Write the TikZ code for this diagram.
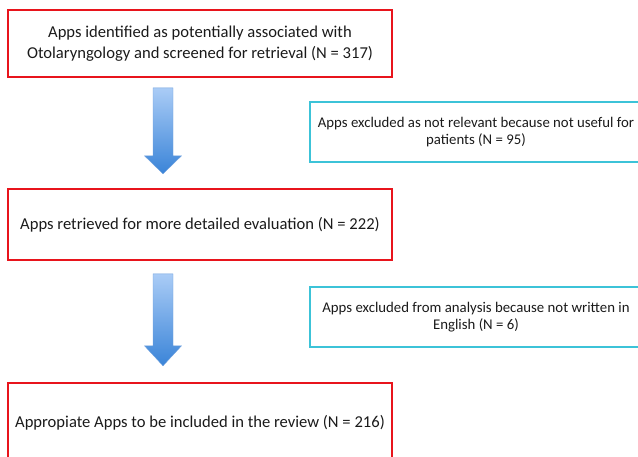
\documentclass[tikz,border=0pt]{standalone}
\usepackage{fontspec}
\setmainfont{Carlito}
\usetikzlibrary{positioning}
\definecolor{boxred}{HTML}{E8141C}
\definecolor{boxcyan}{HTML}{3CC3D8}
\definecolor{arrowtop}{HTML}{AACCF6}
\definecolor{arrowbot}{HTML}{3A84D8}
\definecolor{arrowline}{HTML}{6E9FDC}
\definecolor{txt}{HTML}{1A1A1A}
\newcommand{\bluearrow}[3]{%
  \path[arrowfill] (#1) +(-10,0) -- +(10,0) -- +(10,#2) -- +(18.5,#2)
    -- +(0,#3) -- +(-18.5,#2) -- +(-10,#2) -- cycle;}

\begin{document}
\begin{tikzpicture}[x=1pt,y=-1pt,
  mainbox/.style={draw=boxred, line width=1.6pt, minimum width=384pt,
    align=center, text=txt, font=\fontsize{16.6}{21}\selectfont},
  sidebox/.style={draw=boxcyan, line width=1.6pt, minimum width=332pt,
    minimum height=60pt, align=center, text=txt,
    font=\fontsize{14.8}{17.5}\selectfont},
  arrowfill/.style={top color=arrowtop, bottom color=arrowbot,
    draw=arrowline, line width=0.4pt}]
  \useasboundingbox (0,0) rectangle (638,456);
  \clip (0,0) rectangle (638,456);

  % Main stages
  \node[mainbox, minimum height=67pt] (ident) at (200,43.5)
    {Apps identified as potentially associated with\\
     Otolaryngology and screened for retrieval (N = 317)};
  \node[mainbox, minimum height=71pt] (retr) at (200,224.5)
    {Apps retrieved for more detailed evaluation (N = 222)};
  \node[mainbox, minimum height=80pt] (incl) at (200,423)
    {Appropiate Apps to be included in the review (N = 216)};

  % Exclusions
  \node[sidebox] (excl1) at (476,132)
    {Apps excluded as not relevant because not useful for\\
     patients (N = 95)};
  \node[sidebox] (excl2) at (476,317)
    {Apps excluded from analysis because not written in\\
     English (N = 6)};

  % Block arrows
  \coordinate (a1top) at ([xshift=-37pt,yshift=-10pt]ident.south);
  \coordinate (a2top) at ([xshift=-37pt,yshift=-13pt]retr.south);
  \bluearrow{a1top}{68}{86}
  \bluearrow{a2top}{72}{92}
\end{tikzpicture}
\end{document}
